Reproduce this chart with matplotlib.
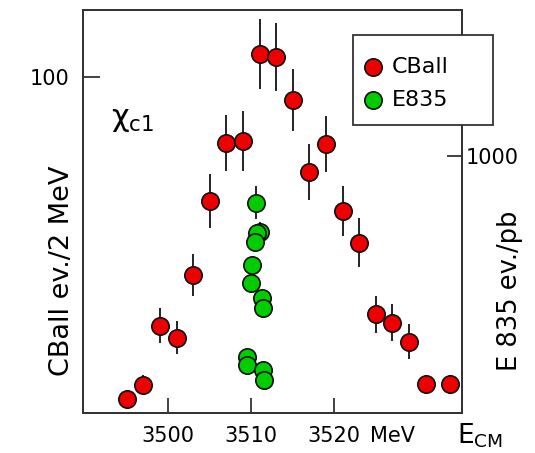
import matplotlib
matplotlib.use("Agg")
import matplotlib.pyplot as plt
from matplotlib.lines import Line2D
from matplotlib.patches import Rectangle

# CBall: events / 2 MeV (left axis)
cball_e = [3495, 3497, 3499, 3501, 3503, 3505, 3507, 3509, 3511, 3513,
           3515, 3517, 3519, 3521, 3523, 3525, 3527, 3529, 3531, 3534]
cball_n = [4.1, 8.3, 26.0, 22.4, 41.1, 63.0, 80.4, 81.0, 106.8, 105.9,
           93.2, 71.8, 80.1, 60.2, 50.7, 29.4, 26.9, 21.2, 8.5, 8.5]
cball_err = [2.0, 2.9, 5.1, 4.9, 6.3, 8.0, 8.3, 8.9, 10.4, 10.1,
             9.2, 8.3, 8.4, 7.4, 7.4, 5.5, 5.6, 5.2, 2.9, 2.9]

# E835: events / pb (right axis)
e835_e = [3510.53, 3511.05, 3510.65, 3510.45, 3510.05, 3509.93,
          3511.25, 3511.45, 3509.45, 3509.52, 3511.45, 3511.57]
e835_n = [818, 705, 699, 667, 576, 507, 446, 407, 219, 187, 167, 128]
e835_err = [64, 38, 38, 35, 30, 30, 28, 28, 20, 20, 20, 20]

xticks = [3500, 3510, 3520]
legend_labels = ["CBall", "E835"]

red = "#ee0000"
green = "#00cc00"
edge = "#111111"
axcol = "#333333"
fs = 15
W, H = 535, 453


def fx(px):
    return px / W


def fy(py):
    return 1 - py / H


fig = plt.figure(figsize=(W / 100, H / 100), dpi=100)
ax = fig.add_axes([fx(83.3), fy(413), (461.7 - 83.3) / W, (413 - 10) / H])
ax2 = ax.twinx()

ax.errorbar(cball_e, cball_n, yerr=cball_err, fmt="o", ms=12.5, mfc=red,
            mec=edge, mew=1.2, ecolor="#222222", elinewidth=1.4, capsize=0, zorder=3)
ax2.errorbar(e835_e, e835_n, yerr=e835_err, fmt="o", ms=12.5, mfc=green,
             mec=edge, mew=1.2, ecolor="#222222", elinewidth=1.4, capsize=0, zorder=3)

ax.set_xlim(3489.76, 3535.35)
ax.set_ylim(0, 119.9)
ax2.set_ylim(0, 1568)

ax.set_xticks(xticks)
ax.set_xticklabels([str(t) for t in xticks])
ax.set_yticks([100])
ax2.set_yticks([1000])

for a in (ax, ax2):
    for s in a.spines.values():
        s.set_color(axcol)
        s.set_linewidth(1.3)
ax.tick_params(axis="x", direction="in", length=11, width=1.3, color=axcol,
               labelsize=fs, pad=9)
ax.tick_params(axis="y", direction="in", length=12, width=1.3, color=axcol,
               labelsize=fs, pad=10)
ax2.tick_params(axis="y", direction="in", length=11, width=1.3, color=axcol,
                labelsize=fs, pad=3)

fig.text(fx(370), fy(436), "MeV", fontsize=fs, ha="left", va="center")
fig.text(fx(457), fy(444), r"$\mathrm{E}_{\mathrm{CM}}$", fontsize=19,
         ha="left", va="baseline")
fig.text(fx(62), fy(271), "CBall ev./2 MeV", fontsize=19.5, rotation=90,
         ha="center", va="center")
fig.text(fx(510), fy(291), "E 835 ev./pb", fontsize=18.5, rotation=90,
         ha="center", va="center")
fig.text(fx(111), fy(126), r"χ$_{\mathrm{c1}}$", fontsize=22,
         ha="left", va="baseline")

# legend box drawn by hand so it can stick out past the right axis
box = Rectangle((fx(352.7), fy(125)), (493.3 - 352.7) / W, (125 - 35) / H,
                transform=fig.transFigure, facecolor="white", edgecolor=axcol,
                linewidth=1.3, zorder=10)
fig.add_artist(box)
for lab, col, py in zip(legend_labels, [red, green], [67, 100]):
    fig.add_artist(Line2D([fx(373)], [fy(py)], transform=fig.transFigure,
                          ls="none", marker="o", ms=12.5, mfc=col, mec=edge,
                          mew=1.2, zorder=11))
    fig.text(fx(392), fy(py), lab, fontsize=16, ha="left", va="center",
             zorder=11)

fig.savefig("out.png", dpi=100)
